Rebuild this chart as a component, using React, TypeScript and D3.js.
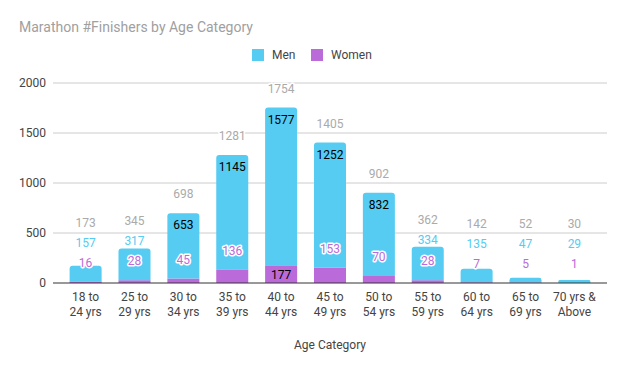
import React from 'react';
import * as d3 from 'd3';

const categories = [
  ['18 to', '24 yrs'], ['25 to', '29 yrs'], ['30 to', '34 yrs'], ['35 to', '39 yrs'],
  ['40 to', '44 yrs'], ['45 to', '49 yrs'], ['50 to', '54 yrs'], ['55 to', '59 yrs'],
  ['60 to', '64 yrs'], ['65 to', '69 yrs'], ['70 yrs &', 'Above'],
];
const men = [157, 317, 653, 1145, 1577, 1252, 832, 334, 135, 47, 29];
const women = [16, 28, 45, 136, 177, 153, 70, 28, 7, 5, 1];
const yTicks = [0, 500, 1000, 1500, 2000];

const MEN = '#56ccf2';
const WOMEN = '#bb6bd9';
const FONT = 'Roboto, sans-serif';

const W = 625;
const H = 371;
const left = 53;
const right = 607;
const y0 = 283;
const y2000 = 83;

const App = () => {
  const x = d3.scaleBand<number>()
    .domain(d3.range(categories.length))
    .range([left, right])
    .paddingInner(0.345)
    .paddingOuter(0.34);
  const y = d3.scaleLinear().domain([0, 2000]).range([y0, y2000]);
  const bw = x.bandwidth();

  const halo = { paintOrder: 'stroke' as const, stroke: '#fff', strokeWidth: 3, strokeLinejoin: 'round' as const };

  const bars = categories.map((c, i) => {
    const bx = x(i) as number;
    const cx = bx + bw / 2;
    const w = women[i];
    const m = men[i];
    const total = w + m;
    const wTop = y(w);
    const mTop = y(total);
    // annotation placement: inside the segment when it fits, otherwise stacked above
    const wInside = y0 - wTop >= 16;
    const wLabelY = wInside ? wTop + 9 : wTop - 19;
    const mInsideY = mTop + 12;
    const mInside = wInside ? (wTop - mTop) >= 24 : mInsideY < wLabelY - 18;
    const mLabelY = mInside ? mInsideY : Math.min(mTop - 7, wLabelY - 20);
    const tLabelY = mInside ? mTop - 19 : Math.min(mTop - 19, mLabelY - 20);
    const r = Math.min(3, (wTop - mTop) / 2);
    const path = d3.path();
    path.moveTo(bx, wTop);
    path.lineTo(bx, mTop + r);
    path.quadraticCurveTo(bx, mTop, bx + r, mTop);
    path.lineTo(bx + bw - r, mTop);
    path.quadraticCurveTo(bx + bw, mTop, bx + bw, mTop + r);
    path.lineTo(bx + bw, wTop);
    path.closePath();
    return (
      <g key={i}>
        <rect x={bx} y={wTop} width={bw} height={y0 - wTop} fill={WOMEN} />
        <path d={path.toString()} fill={MEN} />
        <text x={cx} y={wLabelY} dy="0.35em" textAnchor="middle" fontSize={12}
          fill={wInside ? '#000' : WOMEN} style={wInside ? undefined : halo}>{w}</text>
        <text x={cx} y={mLabelY} dy="0.35em" textAnchor="middle" fontSize={12}
          fill={mInside ? '#000' : MEN} style={mInside ? undefined : halo}>{m}</text>
        <text x={cx} y={tLabelY} dy="0.35em" textAnchor="middle" fontSize={12}
          fill="#aaaaaa" style={halo}>{total}</text>
        {c.map((line, k) => (
          <text key={k} x={cx} y={297 + k * 15} dy="0.35em" textAnchor="middle" fontSize={12} fill="#444">{line}</text>
        ))}
      </g>
    );
  });

  return (
    <svg width={W} height={H} style={{ position: 'absolute', left: 0, top: 0, background: '#fff' }} fontFamily={FONT}>
      <text x={19} y={27} dy="0.35em" fontSize={14} fill="#a0a0a0">Marathon #Finishers by Age Category</text>
      <rect x={252} y={49} width={12} height={12} fill={MEN} />
      <text x={272} y={55} dy="0.35em" fontSize={12} fill="#444">Men</text>
      <rect x={311} y={49} width={12} height={12} fill={WOMEN} />
      <text x={331} y={55} dy="0.35em" fontSize={12} fill="#444">Women</text>
      {yTicks.map(t => (
        <g key={t}>
          {t > 0 && <line x1={left} x2={right} y1={y(t)} y2={y(t)} stroke="#ccc" />}
          <text x={46} y={y(t)} dy="0.35em" textAnchor="end" fontSize={12} fill="#444">{t}</text>
        </g>
      ))}
      {bars}
      <line x1={left} x2={right} y1={y0} y2={y0} stroke="#333" />
      <text x={330} y={345} dy="0.35em" textAnchor="middle" fontSize={12} fill="#444">Age Category</text>
    </svg>
  );
};

export default App;
